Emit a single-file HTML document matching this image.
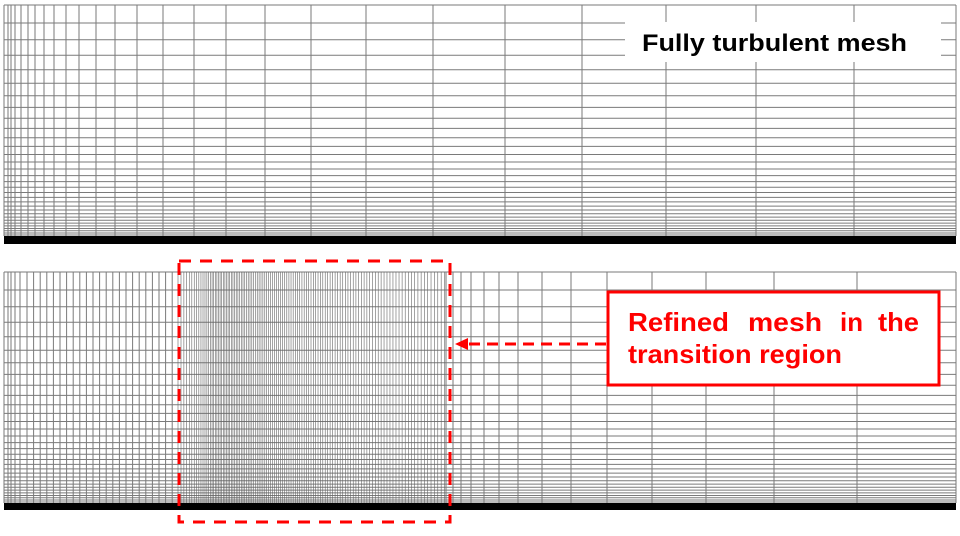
<!DOCTYPE html>
<html><head><meta charset="utf-8">
<style>
html,body{margin:0;padding:0;background:#fff;}
svg{display:block;}
</style></head>
<body>
<svg id="s" width="960" height="536" viewBox="0 0 960 536" xmlns="http://www.w3.org/2000/svg">
<rect width="960" height="536" fill="#fff"/>
<g id="mesh" stroke="#7a7a7a" stroke-width="1" fill="none"></g>
<rect x="4" y="236" width="952" height="8" fill="#000"/>
<rect x="4" y="503" width="952" height="7" fill="#000"/>
<rect x="625" y="22" width="316" height="40" fill="#fff"/>
<text x="642" y="51" font-family="Liberation Sans, sans-serif" font-weight="bold" font-size="24" fill="#000" textLength="265" lengthAdjust="spacingAndGlyphs">Fully turbulent mesh</text>
<rect x="179" y="261" width="271" height="261" fill="none" stroke="#f00" stroke-width="3" stroke-dasharray="12 9"/>
<line x1="606" y1="344" x2="466" y2="344" stroke="#f00" stroke-width="3" stroke-dasharray="11 7"/>
<polygon points="455,344 468,338 468,350" fill="#f00"/>
<rect x="608" y="292" width="331" height="93" fill="#fff" stroke="#f00" stroke-width="3"/>
<g font-family="Liberation Sans, sans-serif" font-weight="bold" font-size="26" fill="#f00">
<text x="628" y="331" textLength="101" lengthAdjust="spacingAndGlyphs">Refined</text>
<text x="748" y="331" textLength="74" lengthAdjust="spacingAndGlyphs">mesh</text>
<text x="840" y="331" textLength="23" lengthAdjust="spacingAndGlyphs">in</text>
<text x="878" y="331" textLength="41" lengthAdjust="spacingAndGlyphs">the</text>
<text x="628" y="363" textLength="214" lengthAdjust="spacingAndGlyphs">transition region</text>
</g>
</svg>
<script>
(function(){
var g=document.getElementById('mesh');var ns='http://www.w3.org/2000/svg';
function L(x1,y1,x2,y2,c,w){var l=document.createElementNS(ns,'line');l.setAttribute('x1',x1);l.setAttribute('y1',y1);l.setAttribute('x2',x2);l.setAttribute('y2',y2);if(c)l.setAttribute('stroke',c);if(w)l.setAttribute('stroke-width',w);g.appendChild(l);}
function hl(top,bot,x1,x2){var y=top,gap=18;L(x1,y,x2,y);while(true){y+=gap;gap*=0.93;if(gap<0.7)gap=0.7;if(y>=bot)break;L(x1,y,x2,y);}}
hl(5,236,4,956);
var tx=[4,8,11,15,21,28,35,44,54,66,79,96,115,137,163,194,226,265,311,366,433,505,582,666,756,854,956];
tx.forEach(function(x){L(x,5,x,236);});
hl(272,503,4,956);
var bx=[4,8,11,15,20,27];var x=27;while(x<172){x+=6.6;bx.push(x);}
bx.forEach(function(x){L(x,272,x,503);});
x=178;while(x<447){L(x,272,x,503,'#666',0.6);var s;if(x<212)s=3-(x-178)/34*1.4;else if(x<228)s=1.6;else s=1.6+(x-228)/220*1.9;x+=s;}
[446,453,461,471,484,499,518,542,571,607,652,706,774,857,956].forEach(function(x){L(x,272,x,503);});
})();
</script>
</body></html>
